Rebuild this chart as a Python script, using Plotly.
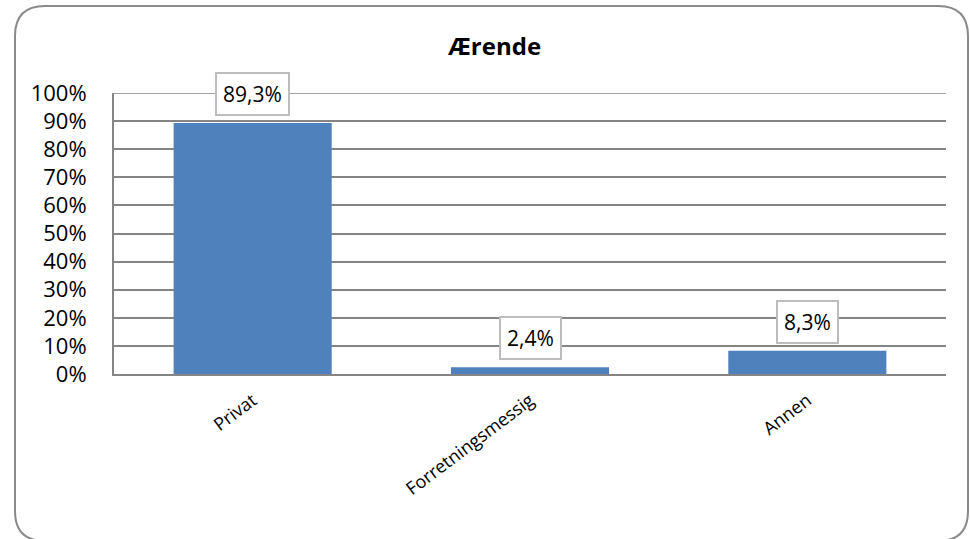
import plotly.graph_objects as go

# --------------------------
# Data
# --------------------------
categories = ["Privat", "Forretningsmessig", "Annen"]
shares = [0.893, 0.024, 0.083]
title_text = "Ærende"

W, H = 970, 539
L, R, T, B = 114, 24, 93, 165
PW, PH = W - L - R, H - T - B
GRID = "#858585"


def px_x(x):
    return (x - L) / PW


def px_y(y):
    return 1 - (y - T) / PH


# rounded chart border (Excel style)
x0, x1 = px_x(15), px_x(968)
yt, yb = px_y(6), px_y(541)
rx, ry = 30 / PW, 30 / PH
border = (
    f"M {x0+rx},{yt} L {x1-rx},{yt} Q {x1},{yt} {x1},{yt-ry} "
    f"L {x1},{yb+ry} Q {x1},{yb} {x1-rx},{yb} "
    f"L {x0+rx},{yb} Q {x0},{yb} {x0},{yb+ry} "
    f"L {x0},{yt-ry} Q {x0},{yt} {x0+rx},{yt} Z"
)

font = "Open Sans"

fig = go.Figure()
fig.add_trace(go.Bar(
    x=categories, y=shares,
    marker=dict(color="#4F81BD", line=dict(width=0)),
    hoverinfo="x+y",
))

# data labels in boxes
for c, v in zip(categories, shares):
    fig.add_annotation(
        x=c, y=v, xref="x", yref="y",
        text=f"{v*100:.1f}%".replace(".", ","),
        showarrow=False, yanchor="middle", yshift=29,
        font=dict(family=font, size=21, color="#000"),
        bgcolor="white", bordercolor="#bdbdbd", borderwidth=2, borderpad=6,
    )

fig.add_annotation(
    x=px_x(494), y=px_y(46), xref="paper", yref="paper",
    text="<b>" + title_text + "</b>", showarrow=False,
    font=dict(family=font, size=24, color="#000"),
    xanchor="center", yanchor="middle",
)

fig.add_shape(type="path", path=border, xref="paper", yref="paper",
              line=dict(color="#8a8a8a", width=2), fillcolor="rgba(0,0,0,0)")
# top gridline (100%) which plotly drops at the range edge
fig.add_shape(type="line", xref="paper", yref="y", x0=0, x1=1, y0=1, y1=1,
              line=dict(color=GRID, width=1.5), layer="below")

fig.update_layout(
    width=W, height=H,
    margin=dict(l=L, r=R, t=T, b=B, pad=0),
    paper_bgcolor="white", plot_bgcolor="white",
    bargap=0.43,
    showlegend=False,
    font=dict(family=font, color="#000"),
)
fig.update_yaxes(
    range=[0, 1], dtick=0.1, tickformat=".0%",
    showgrid=True, gridcolor=GRID, gridwidth=1.5,
    showline=True, linecolor=GRID, linewidth=2,
    ticks="outside", ticklen=21, tickcolor="rgba(0,0,0,0)",
    tickfont=dict(family=font, size=22, color="#000"),
    zeroline=False, fixedrange=True,
)
fig.update_xaxes(
    showline=True, linecolor=GRID, linewidth=2,
    tickangle=-37, ticks="outside", ticklen=7, tickcolor="rgba(0,0,0,0)",
    tickfont=dict(family=font, size=18, color="#000"),
    fixedrange=True,
)

fig.write_html("out.html", config={"displayModeBar": False},
               post_script="document.body.style.margin='0';")
